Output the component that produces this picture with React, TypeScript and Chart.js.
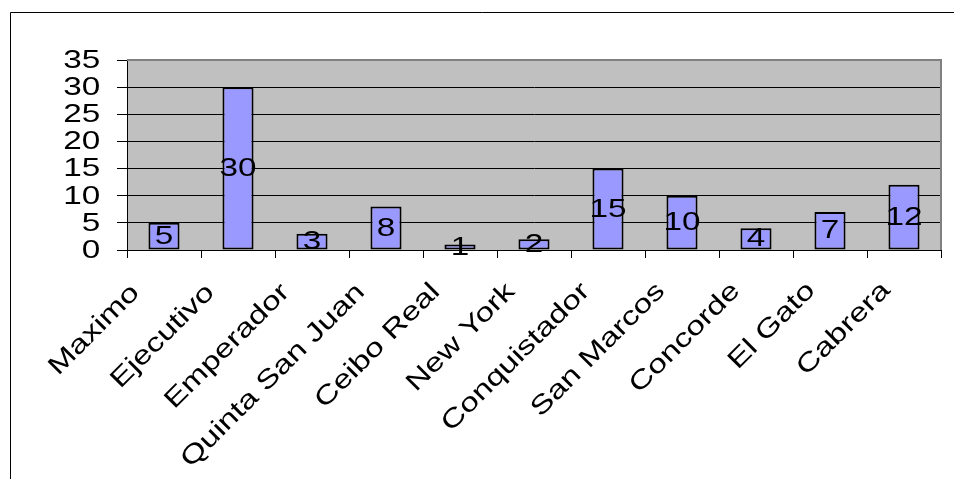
import React, { useEffect, useRef } from "react";
import { Chart, registerables } from "chart.js";

Chart.register(...registerables);

// Category names along the horizontal axis
const categories = [
  "Maximo",
  "Ejecutivo",
  "Emperador",
  "Quinta San Juan",
  "Ceibo Real",
  "New York",
  "Conquistador",
  "San Marcos",
  "Concorde",
  "El Gato",
  "Cabrera",
];

// Value per category
const counts = [5, 30, 3, 8, 1, 2, 15, 10, 4, 7, 12];

// Value axis range and step
const yMin = 0;
const yMax = 35;
const yStep = 5;

const FONT = '26px "Liberation Sans", Arial, sans-serif';
// glyphs are drawn wide, stretched along their baseline
const STRETCH = 1.28;
const CAP_HALF = 9.3;

function drawStretched(
  ctx: CanvasRenderingContext2D,
  text: string,
  x: number,
  y: number,
  align: CanvasTextAlign,
  angle = 0
) {
  ctx.save();
  ctx.translate(x, y);
  if (angle) ctx.rotate(angle);
  ctx.scale(STRETCH, 1);
  ctx.font = FONT;
  ctx.fillStyle = "#000";
  ctx.textAlign = align;
  ctx.textBaseline = "alphabetic";
  ctx.fillText(text, 0, 0);
  ctx.restore();
}

const decorPlugin = {
  id: "decor",
  beforeDraw(chart: any) {
    const { ctx, chartArea: a } = chart;
    ctx.save();
    ctx.fillStyle = "#ffffff";
    ctx.fillRect(0, 0, chart.width, chart.height);
    ctx.fillStyle = "#C0C0C0";
    ctx.fillRect(a.left, a.top, a.right - a.left, a.bottom - a.top);
    // outer frame around the chart object
    ctx.strokeStyle = "#000";
    ctx.lineWidth = 1;
    ctx.beginPath();
    ctx.moveTo(10.5, chart.height);
    ctx.lineTo(10.5, 12.5);
    ctx.lineTo(chart.width, 12.5);
    ctx.stroke();
    ctx.restore();
  },
  beforeDatasetsDraw(chart: any) {
    const { ctx, chartArea: a } = chart;
    ctx.save();
    ctx.strokeStyle = "#808080";
    ctx.lineWidth = 2;
    ctx.beginPath();
    ctx.moveTo(a.left, a.top);
    ctx.lineTo(a.right, a.top);
    ctx.lineTo(a.right, a.bottom);
    ctx.stroke();
    ctx.restore();
  },
  afterDatasetsDraw(chart: any) {
    const { ctx } = chart;
    const meta = chart.getDatasetMeta(0);
    meta.data.forEach((bar: any, i: number) => {
      const mid = (bar.y + bar.base) / 2;
      drawStretched(ctx, String(counts[i]), bar.x, mid - 1.7 + CAP_HALF, "center");
    });
  },
  afterDraw(chart: any) {
    const { ctx, chartArea: a } = chart;
    const yScale = chart.scales.y;
    const xScale = chart.scales.x;
    yScale.ticks.forEach((t: any) => {
      const y = yScale.getPixelForValue(t.value);
      drawStretched(ctx, String(t.value), a.left - 26.7, y - 1.4 + CAP_HALF, "right");
    });
    categories.forEach((name, i) => {
      const cx = xScale.getPixelForValue(i);
      const px = cx - 23.4 + 1.07 * i;
      const py = a.bottom + 43.9 - 0.24 * i;
      drawStretched(ctx, name, px, py, "right", -Math.PI / 4);
    });
  },
};

export default function App() {
  const canvasRef = useRef<HTMLCanvasElement | null>(null);

  useEffect(() => {
    const canvas = canvasRef.current;
    if (!canvas) return;
    const chart = new Chart(canvas, {
      type: "bar",
      data: {
        labels: categories,
        datasets: [
          {
            data: counts,
            backgroundColor: "#9999FF",
            borderColor: "#000000",
            borderWidth: 2,
            borderSkipped: false,
            barPercentage: 0.42,
            categoryPercentage: 1,
          },
        ],
      },
      options: {
        responsive: false,
        animation: false,
        devicePixelRatio: 1,
        layout: { padding: { left: 117, top: 60, right: 13, bottom: 221 } },
        plugins: {
          legend: { display: false },
          tooltip: { enabled: false },
        },
        scales: {
          x: {
            offset: true,
            grid: {
              offset: true,
              drawOnChartArea: false,
              drawTicks: true,
              tickLength: 8,
              color: "#000",
              lineWidth: 1,
            },
            border: { display: true, color: "#000", width: 1 },
            ticks: { display: false },
          },
          y: {
            min: yMin,
            max: yMax,
            ticks: { display: false, stepSize: yStep },
            grid: {
              drawTicks: true,
              tickLength: 10,
              color: (c: any) => (c.tick && c.tick.value === yMax ? "rgba(0,0,0,0)" : "#000"),
              tickColor: "#000",
              lineWidth: 1,
            },
            border: { display: true, color: "#000", width: 1 },
          },
        },
      },
      plugins: [decorPlugin],
    });
    return () => chart.destroy();
  }, []);

  return (
    <div style={{ position: "absolute", left: 0, top: 0, width: 954, height: 479 }}>
      <canvas ref={canvasRef} width={954} height={479} style={{ display: "block", width: 954, height: 479 }} />
    </div>
  );
}
